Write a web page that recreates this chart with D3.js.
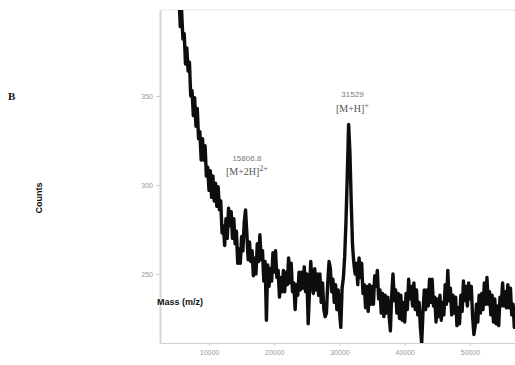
<!DOCTYPE html>
<html>
<head>
<meta charset="utf-8">
<script src="https://cdn.jsdelivr.net/npm/d3@7"></script>
<style>
  html, body { margin: 0; padding: 0; background: #fff; }
  svg { display: block; }
</style>
</head>
<body>
<svg width="515" height="365"></svg>
<script>
// spectrum sampled every 200 Da starting at 5400 Da
const massStart = 5400;
const massStep = 200;
const counts = [
  406, 389, 398, 382, 385, 368, 377, 364, 369, 350,
  353, 339, 349, 333, 343, 326, 330, 314, 326, 314,
  322, 305, 310, 297, 308, 293, 305, 291, 301, 288,
  299, 286, 291, 273, 277, 266, 281, 270, 287, 277,
  285, 270, 281, 267, 274, 256, 264, 256, 271, 263,
  279, 286, 273, 258, 268, 257, 263, 249, 259, 250,
  267, 257, 272, 258, 263, 246, 257, 224, 255, 243,
  253, 246, 262, 251, 263, 248, 252, 237, 248, 240,
  252, 240, 251, 244, 259, 245, 256, 240, 245, 230,
  244, 238, 251, 241, 251, 242, 254, 240, 250, 222,
  240, 257, 244, 239, 253, 241, 250, 238, 250, 234,
  245, 230, 226, 228, 245, 257, 253, 240, 247, 234,
  244, 230, 241, 229, 220, 242, 248, 260, 280, 306,
  334, 318, 290, 266, 256, 250, 256, 244, 259, 248,
  256, 239, 244, 231, 243, 229, 244, 233, 243, 233,
  249, 243, 252, 236, 241, 228, 239, 226, 238, 228,
  237, 227, 218, 238, 250, 235, 241, 228, 239, 225,
  238, 224, 234, 223, 239, 230, 247, 236, 243, 232,
  245, 230, 241, 227, 234, 220, 211, 229, 241, 230,
  241, 232, 247, 234, 247, 232, 237, 223, 236, 226,
  238, 224, 234, 227, 244, 233, 252, 235, 242, 227,
  238, 228, 237, 221, 231, 222, 238, 229, 246, 235,
  243, 232, 245, 236, 243, 226, 216, 221, 233, 223,
  238, 228, 239, 230, 245, 233, 248, 233, 240, 227,
  238, 223, 236, 222, 232, 221, 237, 232, 245, 232,
  240, 231, 244, 231, 242, 227, 233, 220, 232
];
const massTicks = [10000, 20000, 30000, 40000, 50000];
const countTicks = [250, 300, 350];
const peakLabels = [
  { mass: 15806.8, value: '15806.8', ion: '[M+2H]', charge: '2+' },
  { mass: 31529, value: '31529', ion: '[M+H]', charge: '+' }
];

const svg = d3.select('svg');
const plotL = 160, plotR = 515, plotT = 10, plotB = 343;

const x = d3.scaleLinear().domain([2490, 56900]).range([plotL, plotR]);
const y = d3.scaleLinear().domain([211.2, 398.3]).range([plotB, plotT]);

const points = counts.map((c, i) => [massStart + i * massStep, c]);

const defs = svg.append('defs');
defs.append('clipPath').attr('id', 'plot')
  .append('rect').attr('x', plotL).attr('y', plotT)
  .attr('width', plotR - plotL).attr('height', plotB - plotT);
defs.append('filter').attr('id', 'soft')
  .append('feGaussianBlur').attr('stdDeviation', 0.7);

// frame
svg.append('line')
  .attr('x1', plotL).attr('x2', plotR).attr('y1', plotT).attr('y2', plotT)
  .attr('stroke', '#e4e4e4').attr('stroke-width', 1);

const yAxis = svg.append('g')
  .attr('transform', `translate(${plotL},0)`)
  .call(d3.axisLeft(y).tickValues(countTicks).tickSize(4).tickSizeOuter(0));
yAxis.select('.domain').attr('stroke', '#d6d6d6').attr('stroke-width', 2);
yAxis.selectAll('.tick line').attr('stroke', '#cfcfcf');
yAxis.selectAll('.tick text')
  .attr('fill', '#999')
  .style('font', '7px "Liberation Sans", Arial, sans-serif');

const xAxis = svg.append('g')
  .attr('transform', `translate(0,${plotB})`)
  .call(d3.axisBottom(x).tickValues(massTicks).tickFormat(d3.format('d')).tickSize(3).tickSizeOuter(0));
xAxis.select('.domain').attr('stroke', '#cfcfcf').attr('stroke-width', 1.2);
xAxis.selectAll('.tick line').attr('stroke', '#cfcfcf');
xAxis.selectAll('.tick text')
  .attr('fill', '#999')
  .attr('dy', '0.9em')
  .style('font', '7px "Liberation Sans", Arial, sans-serif');

// spectrum
svg.append('path')
  .datum(points)
  .attr('clip-path', 'url(#plot)')
  .attr('filter', 'url(#soft)')
  .attr('fill', 'none')
  .attr('stroke', '#0d0d0d')
  .attr('stroke-width', 3.4)
  .attr('stroke-linejoin', 'round')
  .attr('d', d3.line().x(d => x(d[0])).y(d => y(d[1])));

// peak annotations
const labelPos = [
  { dx: 0, valueY: 161, ionY: 175 },
  { dx: 3, valueY: 97, ionY: 112 }
];
peakLabels.forEach((p, i) => {
  const cx = x(p.mass) + labelPos[i].dx;
  svg.append('text')
    .attr('x', cx).attr('y', labelPos[i].valueY)
    .attr('text-anchor', 'middle')
    .attr('fill', '#777')
    .style('font', '8px "Liberation Sans", Arial, sans-serif')
    .text(p.value);
  const t = svg.append('text')
    .attr('x', cx).attr('y', labelPos[i].ionY)
    .attr('text-anchor', 'middle')
    .attr('fill', '#555')
    .style('font', '10px "Liberation Serif", "Times New Roman", serif');
  t.append('tspan').text(p.ion);
  t.append('tspan').attr('dy', -4).style('font-size', '8px').text(p.charge);
});

// titles
svg.append('text')
  .attr('x', 8).attr('y', 100)
  .attr('fill', '#111')
  .style('font', 'bold 11px "Liberation Serif", "Times New Roman", serif')
  .text('B');

svg.append('text')
  .attr('transform', 'translate(42,198) rotate(-90)')
  .attr('text-anchor', 'middle')
  .attr('fill', '#111')
  .style('font', 'bold 9px "Liberation Sans", Arial, sans-serif')
  .text('Counts');

svg.append('text')
  .attr('x', 157).attr('y', 305)
  .attr('fill', '#111')
  .style('font', 'bold 9px "Liberation Sans", Arial, sans-serif')
  .text('Mass (m/z)');
</script>
</body>
</html>
